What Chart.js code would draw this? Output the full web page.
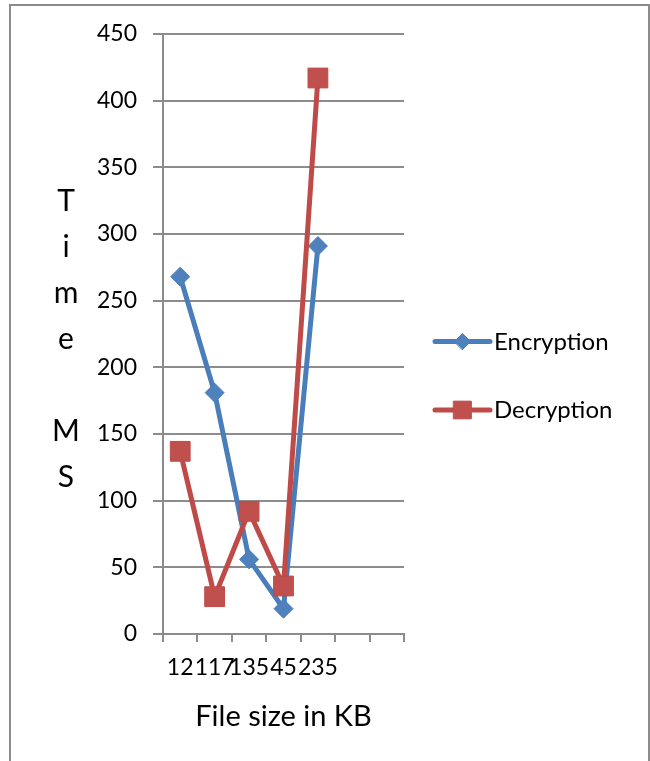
<!DOCTYPE html>
<html>
<head>
<meta charset="utf-8">
<script src="https://cdn.jsdelivr.net/npm/chart.js@4/dist/chart.umd.min.js"></script>
<style>
  html, body { margin: 0; padding: 0; background: #fff; overflow: hidden; }
  #frame { position: absolute; left: 9px; top: 4px; width: 641px; height: 800px;
           box-sizing: border-box; border: 2px solid #8c8c8c; }
  #c { position: absolute; left: 0; top: 0; }
</style>
</head>
<body>
<div id="frame"></div>
<canvas id="c" width="650" height="761"></canvas>
<script>
// File sizes (KB) along the x axis; the last two slots are empty
const fileSizes = ['12', '117', '135', '45', '235', '', ''];
// Times in ms
const encryptionTimes = [268, 181, 56, 19, 291];
const decryptionTimes = [137, 28, 92, 36, 417];
// Value axis range
const yMin = 0, yMax = 450, yStep = 50;
// Axis titles
const yTitleLines = ['T', 'i', 'm', 'e', '', 'M', 'S'];
const xTitle = 'File size in KB';

const FONT = 'Lato, "Liberation Sans", sans-serif';
const GRID = '#8c8c8c';

// Stacked vertical axis title and a line-and-marker legend at the right
const sideText = {
  id: 'sideText',
  afterDraw(chart) {
    const { ctx, chartArea: a } = chart;
    const midY = (a.top + a.bottom) / 2;
    ctx.save();
    ctx.fillStyle = '#000';
    ctx.font = '30px ' + FONT;
    ctx.textAlign = 'center';
    ctx.textBaseline = 'alphabetic';
    const cx = a.left - 97;
    yTitleLines.forEach((s, i) => ctx.fillText(s, cx, midY + (i - 3) * 46 + 15));

    const lx = a.right + 31;
    chart.data.datasets.forEach((ds, i) => {
      const y = midY + 7.5 + i * 68.5;
      ctx.strokeStyle = ds.borderColor;
      ctx.lineWidth = 5;
      ctx.lineCap = 'round';
      ctx.beginPath();
      ctx.moveTo(lx, y);
      ctx.lineTo(lx + 55, y);
      ctx.stroke();
      ctx.fillStyle = ds.pointBackgroundColor;
      ctx.strokeStyle = ds.pointBorderColor;
      ctx.lineWidth = 1;
      Chart.helpers.drawPoint(ctx, {
        pointStyle: ds.pointStyle,
        radius: ds.pointStyle === 'rect' ? 12.5 : 8,
        borderWidth: 1,
        rotation: 0
      }, lx + 27.5, y);
      ctx.fillStyle = '#000';
      ctx.font = '24px ' + FONT;
      ctx.textAlign = 'left';
      ctx.fillText(ds.label, lx + 59, y + 8);
    });
    ctx.restore();
  }
};

new Chart(document.getElementById('c'), {
  type: 'line',
  data: {
    labels: fileSizes,
    datasets: [
      {
        label: 'Encryption',
        data: encryptionTimes,
        borderColor: '#4A7EBB',
        borderWidth: 5,
        pointStyle: 'rectRot',
        pointRadius: 9.5,
        pointBorderWidth: 1,
        pointBackgroundColor: '#4F81BD',
        pointBorderColor: '#4A7EBB',
        tension: 0,
        order: 1
      },
      {
        label: 'Decryption',
        data: decryptionTimes,
        borderColor: '#BE4B48',
        borderWidth: 5,
        pointStyle: 'rect',
        pointRadius: 14,
        pointBorderWidth: 1,
        pointBackgroundColor: '#C0504D',
        pointBorderColor: '#BE4B48',
        tension: 0,
        order: 0
      }
    ]
  },
  options: {
    responsive: false,
    animation: false,
    devicePixelRatio: 1,
    layout: { padding: { top: 34, right: 246, bottom: 0, left: 0 } },
    plugins: {
      legend: { display: false },
      tooltip: { enabled: false },
      title: { display: false }
    },
    scales: {
      x: {
        type: 'category',
        offset: true,
        afterFit(scale) { scale.height = 127; },
        grid: {
          offset: true,
          drawOnChartArea: false,
          drawTicks: true,
          tickLength: 8,
          color: GRID,
          lineWidth: 2
        },
        border: { display: true, color: GRID, width: 2 },
        ticks: {
          autoSkip: false,
          maxRotation: 0,
          minRotation: 0,
          padding: 12,
          color: '#000',
          font: { family: FONT, size: 23 }
        },
        title: {
          display: true,
          text: xTitle,
          color: '#000',
          font: { family: FONT, size: 29 },
          padding: { top: 0, bottom: 27 }
        }
      },
      y: {
        min: yMin,
        max: yMax,
        afterFit(scale) { scale.width = 163; },
        grid: {
          drawOnChartArea: true,
          drawTicks: true,
          tickLength: 10,
          color: GRID,
          lineWidth: 2
        },
        border: { display: true, color: GRID, width: 2 },
        ticks: {
          stepSize: yStep,
          padding: 16,
          color: '#000',
          font: { family: FONT, size: 23 }
        }
      }
    }
  },
  plugins: [sideText]
});
</script>
</body>
</html>
